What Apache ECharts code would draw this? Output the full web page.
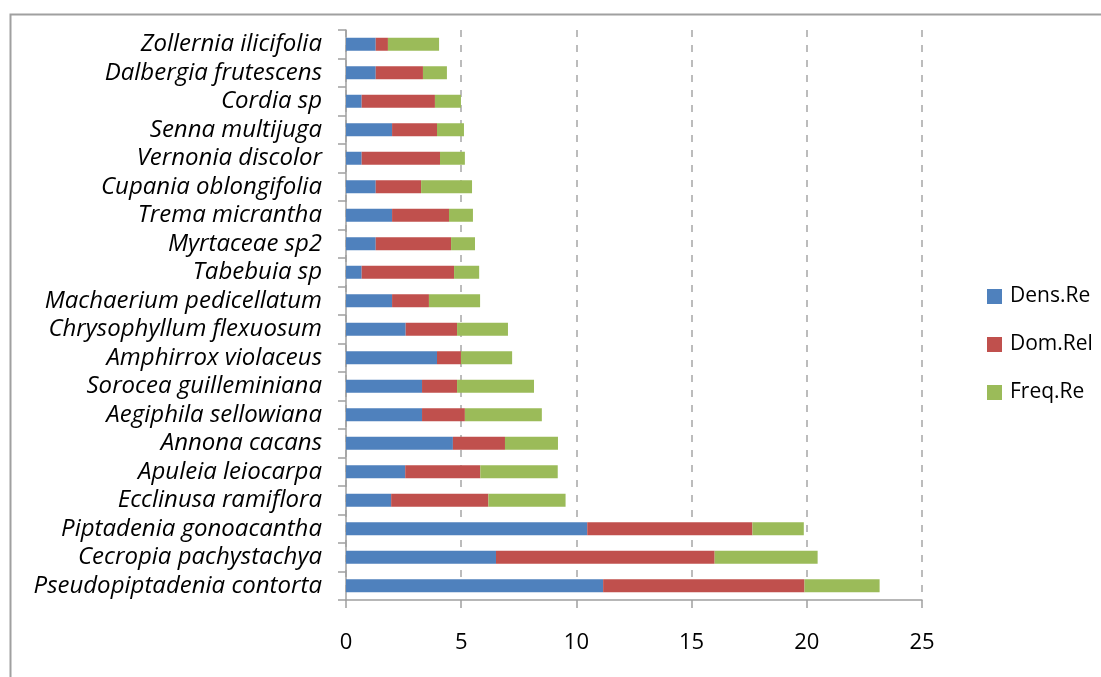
<!DOCTYPE html>
<html>
<head>
<meta charset="utf-8">
<script src="https://cdn.jsdelivr.net/npm/echarts@6/dist/echarts.min.js"></script>
<style>html,body{margin:0;padding:0;background:#fff;}#c{width:1101px;height:677px;}</style>
</head>
<body>
<div id="c"></div>
<script>
const categories = ["Pseudopiptadenia contorta","Cecropia pachystachya","Piptadenia gonoacantha","Ecclinusa ramiflora","Apuleia leiocarpa","Annona cacans","Aegiphila sellowiana","Sorocea guilleminiana","Amphirrox violaceus","Chrysophyllum flexuosum","Machaerium pedicellatum","Tabebuia sp","Myrtaceae sp2","Trema micrantha","Cupania oblongifolia","Vernonia discolor","Senna multijuga","Cordia sp","Dalbergia frutescens","Zollernia ilicifolia"];
const densRe = [11.16,6.51,10.47,1.96,2.57,4.64,3.3,3.3,3.95,2.59,2.0,0.68,1.29,2.0,1.29,0.68,2.0,0.68,1.29,1.29];
const domRel = [8.74,9.49,7.17,4.22,3.26,2.26,1.86,1.52,1.04,2.23,1.6,4.01,3.27,2.47,1.97,3.4,1.95,3.18,2.05,0.53];
const freqRe = [3.26,4.47,2.23,3.35,3.36,2.3,3.34,3.34,2.22,2.21,2.22,1.09,1.04,1.04,2.21,1.08,1.17,1.13,1.04,2.22];
const seriesNames = ["Dens.Re","Dom.Rel","Freq.Re"];
const xTicks = [0,5,10,15,20,25];

const chart = echarts.init(document.getElementById('c'), null, {renderer:'canvas'});
const font = '"Open Sans"';
function bar(name, data, color){
  return {name, type:'bar', stack:'s', data, barWidth:13, itemStyle:{color}, emphasis:{disabled:true}};
}
chart.setOption({
  animation:false,
  color:['#4F81BD','#C0504D','#9BBB59'],
  graphic:[{type:'rect', left:8, top:12, shape:{width:1300,height:900}, style:{fill:'none', stroke:'#a0a0a0', lineWidth:2}, silent:true}],
  grid:{left:346, right:179, top:30, bottom:77, containLabel:false},
  legend:{
    orient:'vertical', left:982, top:281, itemWidth:15, itemHeight:15, itemGap:27,
    icon:'rect', data:seriesNames,
    textStyle:{fontFamily:font, fontSize:21, color:'#000', lineHeight:20, padding:[0,0,0,3]}
  },
  xAxis:{
    type:'value', min:xTicks[0], max:xTicks[xTicks.length-1], interval:5,
    axisLine:{show:true, lineStyle:{color:'#a0a0a0', width:1.5}},
    axisTick:{show:true, length:8, lineStyle:{color:'#a0a0a0', width:1.5}},
    axisLabel:{fontFamily:font, fontSize:22, color:'#000', margin:32},
    splitLine:{show:true, lineStyle:{color:'#a6a6a6', type:[7,8], width:1.5}}
  },
  yAxis:{
    type:'category', data:categories,
    axisLine:{show:true, lineStyle:{color:'#a0a0a0', width:1.5}},
    axisTick:{show:true, length:8, lineStyle:{color:'#a0a0a0', width:1.5}},
    axisLabel:{fontFamily:font, fontSize:24, fontStyle:'italic', color:'#000', margin:24, interval:0}
  },
  series:[bar(seriesNames[0], densRe, '#4F81BD'), bar(seriesNames[1], domRel, '#C0504D'), bar(seriesNames[2], freqRe, '#9BBB59')]
});
</script>
</body>
</html>
